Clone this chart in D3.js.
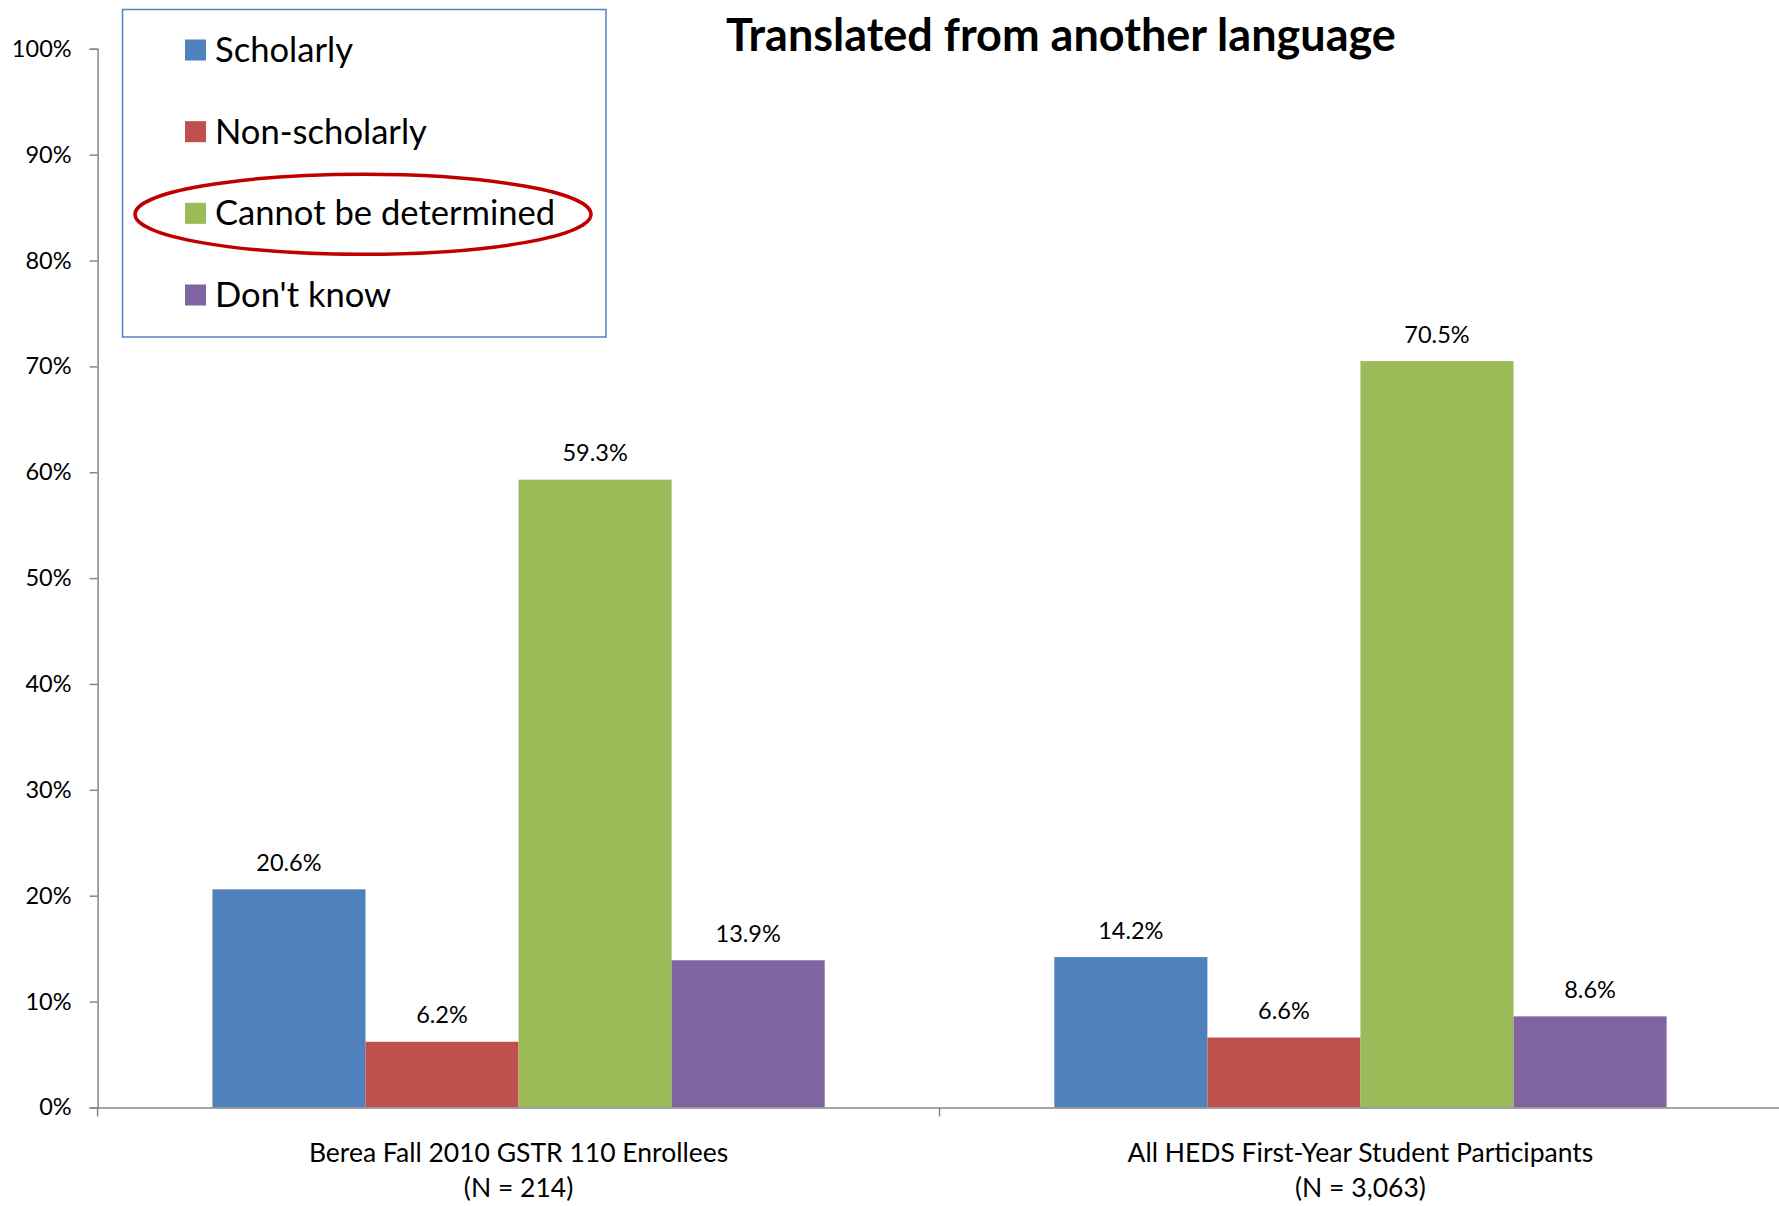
<!DOCTYPE html>
<html>
<head>
<meta charset="utf-8">
<script src="https://cdn.jsdelivr.net/npm/d3@7"></script>
<style>
  html, body { margin: 0; padding: 0; background: #ffffff; }
  svg { display: block; font-family: Lato, "Open Sans", sans-serif; }
</style>
</head>
<body>
<svg id="chart" width="1779" height="1206"></svg>
<script>
// ---- data ----
const categories = ["Berea Fall 2010 GSTR 110 Enrollees", "All HEDS First-Year Student Participants"];
const categorySubLabels = ["(N = 214)", "(N = 3,063)"];
const seriesNames = ["Scholarly", "Non-scholarly", "Cannot be determined", "Don't know"];
const scholarly = [20.6, 14.2];
const nonScholarly = [6.2, 6.6];
const cannotBeDetermined = [59.3, 70.5];
const dontKnow = [13.9, 8.6];
const yTicks = [0, 10, 20, 30, 40, 50, 60, 70, 80, 90, 100];
const seriesColors = ["#4f81bd", "#c0504d", "#9bbb59", "#8064a2"];
const title = "Translated from another language";
const highlightedSeries = "Cannot be determined";

const seriesValues = [scholarly, nonScholarly, cannotBeDetermined, dontKnow];

// ---- layout ----
const svg = d3.select("#chart");
const plot = { left: 97.6, right: 1781.4, top: 48.8, bottom: 1107.4 };

const x0 = d3.scaleBand().domain(categories).range([plot.left, plot.right]).padding(0);
const x1 = d3.scaleBand().domain(seriesNames).range([0, x0.bandwidth()]).paddingInner(0).paddingOuter(0.75);
const y = d3.scaleLinear().domain([0, 100]).range([plot.bottom, plot.top]);
const color = d3.scaleOrdinal().domain(seriesNames).range(seriesColors);

const axisColor = "#868686";

// bars
const groups = svg.append("g").selectAll("g")
  .data(categories)
  .join("g")
  .attr("transform", d => `translate(${x0(d)},0)`);

groups.selectAll("rect")
  .data((d, i) => seriesNames.map((s, j) => ({ s, v: seriesValues[j][i] })))
  .join("rect")
  .attr("x", d => x1(d.s))
  .attr("width", x1.bandwidth())
  .attr("y", d => y(d.v))
  .attr("height", d => y(0) - y(d.v))
  .attr("fill", d => color(d.s));

groups.selectAll("text.val")
  .data((d, i) => seriesNames.map((s, j) => ({ s, v: seriesValues[j][i] })))
  .join("text")
  .attr("class", "val")
  .attr("x", d => x1(d.s) + x1.bandwidth() / 2)
  .attr("y", d => y(d.v) - 18.5)
  .attr("text-anchor", "middle")
  .attr("font-size", 23.5)
  .attr("fill", "#000")
  .text(d => d.v.toFixed(1) + "%");

// y axis
const yAxis = d3.axisLeft(y).tickValues(yTicks).tickSize(8).tickPadding(18).tickFormat(d => d + "%");
const gy = svg.append("g").attr("transform", `translate(${plot.left},0)`).call(yAxis);
gy.select(".domain").attr("stroke", axisColor).attr("stroke-width", 1.5);
gy.selectAll(".tick line").attr("stroke", axisColor).attr("stroke-width", 1.5);
gy.selectAll(".tick text").attr("font-size", 23.5).attr("font-family", "Lato").attr("fill", "#000");

// x axis
const xAxis = d3.axisBottom(x0).tickSize(0).tickFormat("");
const gx = svg.append("g").attr("transform", `translate(0,${plot.bottom})`).call(xAxis);
gx.select(".domain").attr("stroke", axisColor).attr("stroke-width", 1.5);
gx.selectAll(".tick").remove();
// boundary ticks between categories
const boundaries = categories.map(c => x0(c));
gx.selectAll("line.bt").data(boundaries).join("line")
  .attr("class", "bt")
  .attr("x1", d => d).attr("x2", d => d)
  .attr("y1", 0).attr("y2", 9)
  .attr("stroke", axisColor).attr("stroke-width", 1.5);

// category labels
const catG = svg.append("g");
categories.forEach((c, i) => {
  const cx = x0(c) + x0.bandwidth() / 2;
  catG.append("text").attr("x", cx).attr("y", 1162).attr("text-anchor", "middle")
    .attr("font-size", 26.5).attr("fill", "#000").text(c);
  catG.append("text").attr("x", cx).attr("y", 1197).attr("text-anchor", "middle")
    .attr("font-size", 26.5).attr("fill", "#000").text(categorySubLabels[i]);
});

// title
svg.append("text").attr("x", 1061).attr("y", 51).attr("text-anchor", "middle")
  .attr("font-size", 45).attr("font-weight", "bold").attr("fill", "#000").text(title);

// legend
const legend = svg.append("g");
legend.append("rect").attr("x", 122.5).attr("y", 9.5).attr("width", 483.5).attr("height", 327.5)
  .attr("fill", "#fff").attr("stroke", "#4f81bd").attr("stroke-width", 1.5);
const legendY = d3.scalePoint().domain(seriesNames).range([50, 295]);
seriesNames.forEach(s => {
  legend.append("rect").attr("x", 185).attr("y", legendY(s) - 10.5).attr("width", 21).attr("height", 21)
    .attr("fill", color(s));
  legend.append("text").attr("x", 215).attr("y", legendY(s)).attr("dy", "0.35em")
    .attr("font-size", 34.6).attr("fill", "#000").text(s);
});
// highlight ellipse around the emphasized legend entry
legend.append("ellipse")
  .attr("cx", 363).attr("cy", legendY(highlightedSeries) + 1)
  .attr("rx", 228).attr("ry", 40)
  .attr("fill", "none").attr("stroke", "#c00000").attr("stroke-width", 3.5);
</script>
</body>
</html>
